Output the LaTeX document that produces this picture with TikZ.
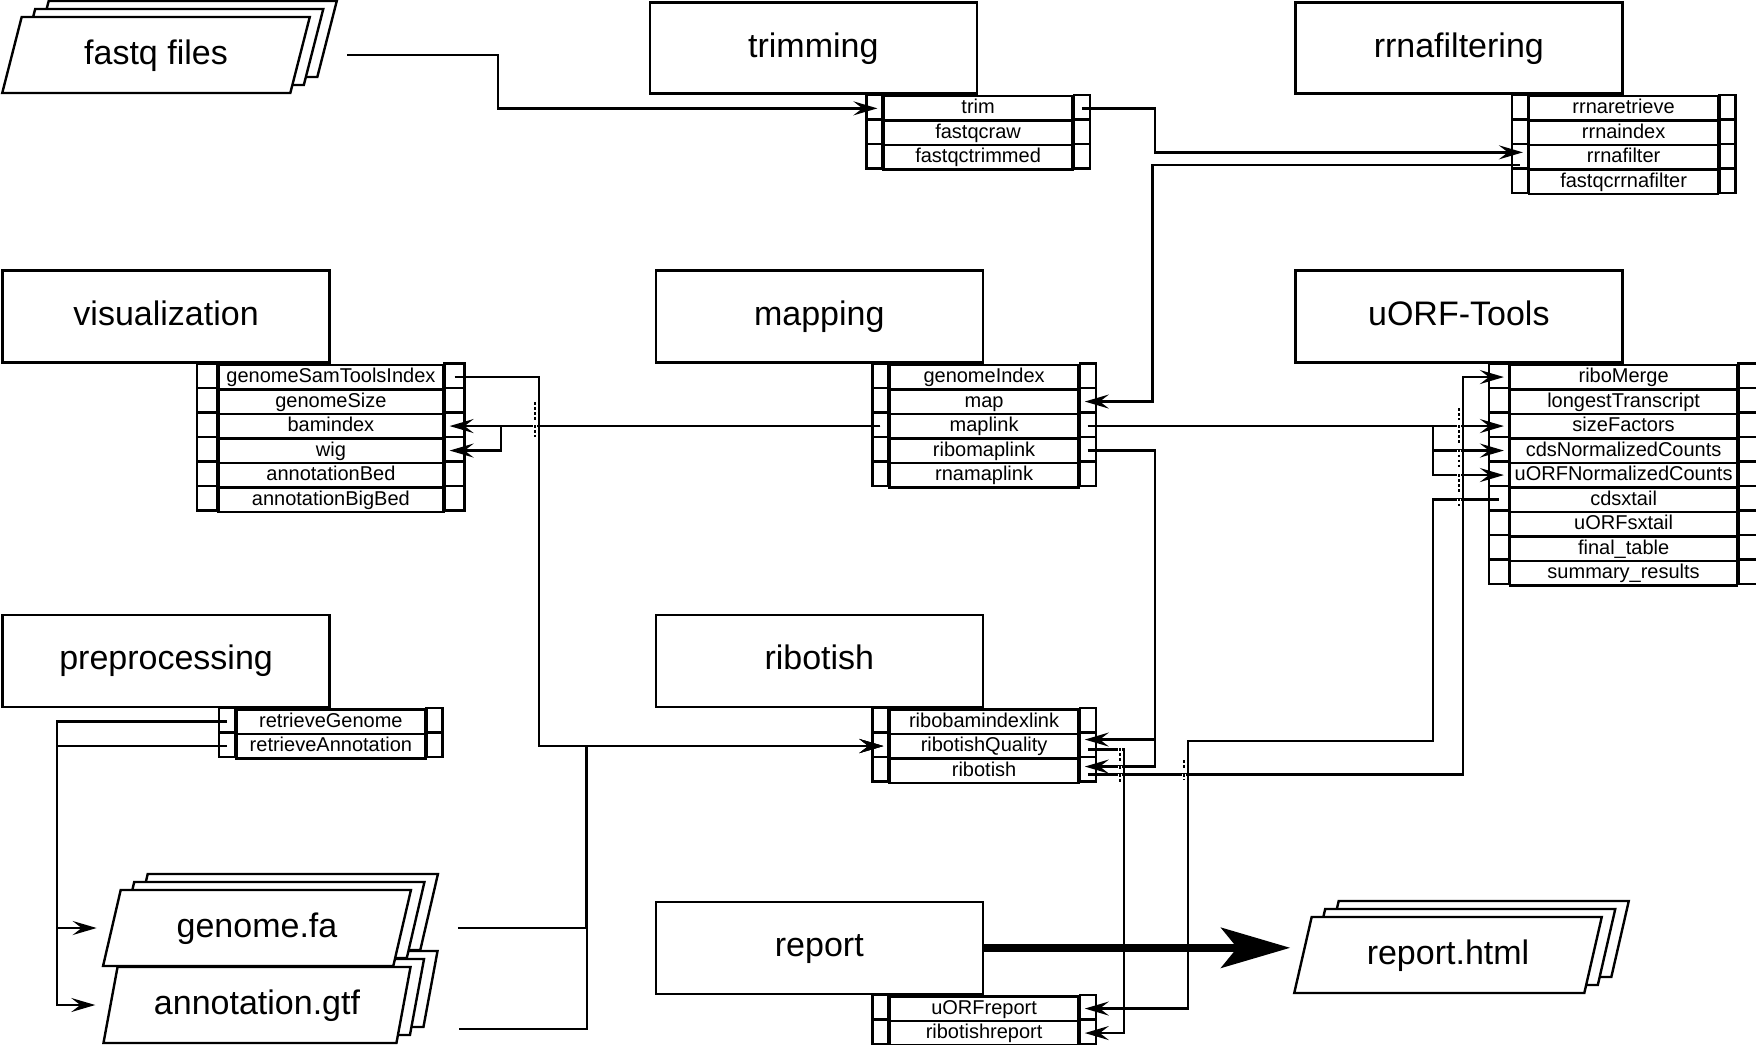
\documentclass[tikz,border=0pt]{standalone}
\usepackage{fontspec}
\setmainfont{Liberation Sans}
\usetikzlibrary{arrows.meta,shapes.geometric,shadows}

\newcommand{\bigfont}{\fontsize{34pt}{40pt}\selectfont}
\newcommand{\cellfont}{\fontsize{20pt}{24pt}\selectfont}

\begin{document}
\begin{tikzpicture}[x=1pt, y=-1pt,
        module/.style={draw, line width=2.6pt, anchor=north west, minimum width=327pt, minimum height=92pt, inner sep=0pt, font=\bigfont, text height=25pt, text depth=7pt},
        cell/.style={draw, line width=2.4pt, anchor=north, minimum width=#1, minimum height=24.5pt, inner sep=0pt, font=\cellfont, text height=14pt, text depth=3pt},
        cell/.default=189pt,
        side/.style={draw, line width=2.4pt},
        files/.style={trapezium, trapezium left angle=72, trapezium right angle=108, trapezium stretches=true,
            draw, fill=white, line width=2.4pt, minimum width=308pt, minimum height=76pt, inner sep=0pt,
            font=\bigfont, text height=25pt, text depth=7pt,
            general shadow={shadow xshift=27pt, shadow yshift=16pt, draw=black, fill=white, line width=2.4pt},
            general shadow={shadow xshift=13.5pt, shadow yshift=8pt, draw=black, fill=white, line width=2.4pt}},
        link/.style={draw, line width=2.4pt, -{Stealth[length=24pt,width=14pt,inset=9pt]}},
        hop/.style={preaction={draw=white, solid, line width=4.5pt}, draw, line width=2.4pt, dash pattern=on 2.5pt off 2.5pt}]
    \useasboundingbox (0,0) rectangle (1756,1044);

    % modules
    \node[module, minimum height=91pt] (trimming) at (648.5,1.3) {trimming};
    \node[module, minimum height=91pt] (rrnafiltering) at (1294,1.3) {rrnafiltering};
    \node[module] (visualization) at (1.3,269) {visualization};
    \node[module] (mapping) at (654.5,269) {mapping};
    \node[module] (uorftools) at (1294,269) {uORF-Tools};
    \node[module] (preprocessing) at (1.3,613.5) {preprocessing};
    \node[module] (ribotishstep) at (654.5,613.5) {ribotish};
    \node[module] (report) at (654.5,900.5) {report};

    % rule tables
    \foreach \n [count=\i from 0] in {trim,fastqcraw,fastqctrimmed}{
        \node[cell] (\n) at ([yshift=-\i*24.5pt]trimming.south east) {\detokenize\expandafter{\n}};
        \draw[side] (\n.north west) rectangle ++(-16,24.5) (\n.north east) rectangle ++(16,24.5);
    }
    \foreach \n [count=\i from 0] in {rrnaretrieve,rrnaindex,rrnafilter,fastqcrrnafilter}{
        \node[cell] (\n) at ([yshift=-\i*24.5pt]rrnafiltering.south east) {\detokenize\expandafter{\n}};
        \draw[side] (\n.north west) rectangle ++(-16,24.5) (\n.north east) rectangle ++(16,24.5);
    }
    \foreach \n [count=\i from 0] in {genomeSamToolsIndex,genomeSize,bamindex,wig,annotationBed,annotationBigBed}{
        \node[cell=225pt] (\n) at ([yshift=-\i*24.5pt]visualization.south east) {\detokenize\expandafter{\n}};
        \draw[side] (\n.north west) rectangle ++(-20,24.5) (\n.north east) rectangle ++(20,24.5);
    }
    \foreach \n [count=\i from 0] in {genomeIndex,map,maplink,ribomaplink,rnamaplink}{
        \node[cell] (\n) at ([yshift=-\i*24.5pt]mapping.south east) {\detokenize\expandafter{\n}};
        \draw[side] (\n.north west) rectangle ++(-16,24.5) (\n.north east) rectangle ++(16,24.5);
    }
    \foreach \n [count=\i from 0] in {riboMerge,longestTranscript,sizeFactors,cdsNormalizedCounts,uORFNormalizedCounts,cdsxtail,uORFsxtail,final_table,summary_results}{
        \node[cell=227pt] (\n) at ([yshift=-\i*24.5pt]uorftools.south east) {\detokenize\expandafter{\n}};
        \draw[side] (\n.north west) rectangle ++(-20,24.5) (\n.north east) rectangle ++(20,24.5);
    }
    \foreach \n [count=\i from 0] in {retrieveGenome,retrieveAnnotation}{
        \node[cell] (\n) at ([yshift=-\i*24.5pt]preprocessing.south east) {\detokenize\expandafter{\n}};
        \draw[side] (\n.north west) rectangle ++(-16,24.5) (\n.north east) rectangle ++(16,24.5);
    }
    \foreach \n [count=\i from 0] in {ribobamindexlink,ribotishQuality,ribotish}{
        \node[cell] (\n) at ([yshift=-\i*24.5pt]ribotishstep.south east) {\detokenize\expandafter{\n}};
        \draw[side] (\n.north west) rectangle ++(-16,24.5) (\n.north east) rectangle ++(16,24.5);
    }
    \foreach \n [count=\i from 0] in {uORFreport,ribotishreport}{
        \node[cell] (\n) at ([yshift=-\i*24.5pt]report.south east) {\detokenize\expandafter{\n}};
        \draw[side] (\n.north west) rectangle ++(-16,24.5) (\n.north east) rectangle ++(16,24.5);
    }

    % files
    \node[files] (fastq) at (156,55) {fastq files};
    \node[files] (annotationgtf) at (257,1005) {annotation.gtf};
    \node[files] (genomefa) at (257,928) {genome.fa};
    \node[files] (reporthtml) at (1448,955) {report.html};

    % connections
    \draw[link] ([xshift=46pt]fastq.east) -- ++(151,0) |- ([xshift=-5pt]trim.west);
    \draw[link] ([xshift=8pt]trim.east) -- ++(73,0) |- ([xshift=-5pt,yshift=5pt]rrnafilter.west);
    \draw[link] ([xshift=-8pt,yshift=-7.5pt]rrnafilter.west) -- ++(-367.5,0) |- ([xshift=5pt]map.east);
    \draw[link] ([xshift=-8pt]maplink.west) -- ([xshift=5pt]bamindex.east);
    \draw[link] ([xshift=-8pt]maplink.west) -| ([xshift=56.5pt]wig.east) -- ([xshift=5pt]wig.east);
    \draw[link] ([xshift=8pt]maplink.east) -- ([xshift=-5pt]sizeFactors.west);
    \draw[link] ([xshift=8pt]maplink.east) -| ([xshift=-76pt]cdsNormalizedCounts.west) -- ([xshift=-5pt]cdsNormalizedCounts.west);
    \draw[link] ([xshift=8pt]maplink.east) -| ([xshift=-76pt]uORFNormalizedCounts.west) -- ([xshift=-5pt]uORFNormalizedCounts.west);
    \draw[link] ([xshift=8pt]ribomaplink.east) -- ++(67,0) |- ([xshift=5pt,yshift=6.5pt]ribotishQuality.east);
    \draw[link] ([xshift=8pt]ribomaplink.east) -- ++(67,0) |- ([xshift=5pt,yshift=4pt]ribotish.east);
    \draw[link] ([xshift=10pt]genomeSamToolsIndex.east) -- ++(84.5,0) |- ([xshift=-5pt]ribotishQuality.west);
    \draw[link] ([xshift=54.5pt]genomefa.east) -- ++(128,0) |- ([xshift=-5pt]ribotishQuality.west);
    \draw[link] ([xshift=54.5pt,yshift=-24pt]annotationgtf.east) -- ++(128,0) |- ([xshift=-5pt]ribotishQuality.west);
    \draw[link, shorten >=14pt] ([xshift=-8pt]retrieveGenome.west) -- ++(-170,0) |- (genomefa.west);
    \draw[link, shorten >=14pt] ([xshift=-8pt]retrieveAnnotation.west) -- ++(-170,0) |- (annotationgtf.west);
    \draw[link] ([xshift=8pt,yshift=-3.5pt]ribotishQuality.east) -- ++(36,0) |- ([xshift=5pt]ribotishreport.east);
    \draw[link] ([xshift=8pt,yshift=-4pt]ribotish.east) -- ++(375,0) |- ([xshift=-5pt]riboMerge.west);
    \draw[link] ([xshift=-10pt]cdsxtail.west) -- ++(-66,0) -- ++(0,241.5) -| ([xshift=108pt]uORFreport.east) -- ([xshift=5pt]uORFreport.east);

    % line jumps
    \foreach \x/\a/\b in {535/402/419.5, 535/425/437, 1459/408/419.5, 1459/425/444, 1459/449.5/468.5, 1459/474/493, 1459/498.5/507,
                          1120/748/760.5, 1120/766/768.5, 1120/774/782, 1184/760/768.5, 1184/774/780}
        \draw[hop] (\x,\a) -- (\x,\b);

    \draw[line width=8pt, -{Stealth[length=69pt,width=40pt,inset=16pt]}, shorten >=11.5pt] (report.east) -- (report.east -| reporthtml.west);
\end{tikzpicture}
\end{document}
